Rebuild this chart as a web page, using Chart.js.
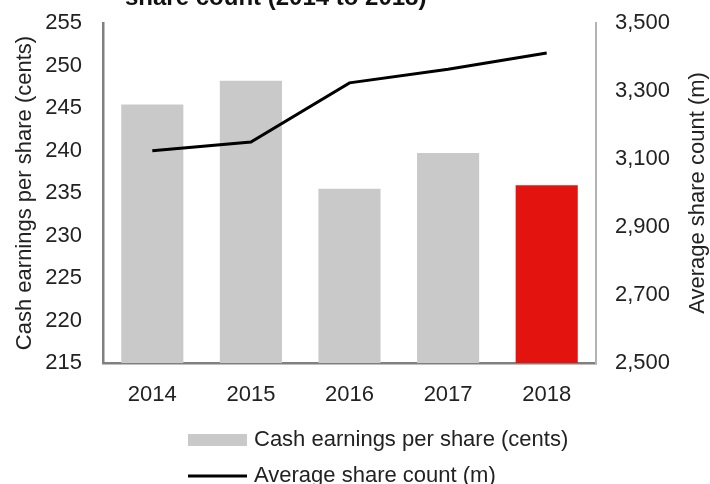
<!doctype html>
<html>
<head>
<title>Cash earnings per share and average share count</title>
<script src="https://cdn.jsdelivr.net/npm/chart.js@4.4.1/dist/chart.umd.min.js"></script>
<style>
body { margin: 0; background: #fff; }
canvas { display: block; }
</style>
</head>
<body>
	<canvas id="canvas" width="710" height="484"></canvas>

	<script>
		// data
		var years = ['2014', '2015', '2016', '2017', '2018'];
		var cashEps = [245.4, 248.2, 235.5, 239.7, 235.9];
		var shareCount = [3124, 3150, 3324, 3364, 3412];
		var epsTicks = [215, 255, 5];
		var countTicks = [2500, 3500, 200];

		var epsLabel = 'Cash earnings per share (cents)';
		var countLabel = 'Average share count (m)';
		var titleText = 'share count (2014 to 2018)';

		var grey = '#c9c9c9';
		var red = '#e3140f';
		var textColor = '#222';
		var fontFamily = '"Liberation Sans", Arial, sans-serif';

		Chart.defaults.font.family = fontFamily;
		Chart.defaults.font.size = 22;
		Chart.defaults.color = textColor;

		// title (cut off at the top), right axis title and legend
		var extras = {
			id: 'extras',
			afterDraw: function(chart) {
				var ctx = chart.ctx;
				ctx.save();
				ctx.fillStyle = '#111';
				ctx.font = 'bold 24px ' + fontFamily;
				ctx.textAlign = 'left';
				ctx.textBaseline = 'alphabetic';
				ctx.fillText(titleText, 125, 5);

				var area = chart.chartArea;
				ctx.fillStyle = textColor;
				ctx.font = '22px ' + fontFamily;
				ctx.translate(698, (area.top + area.bottom) / 2);
				ctx.rotate(-Math.PI / 2);
				ctx.textAlign = 'center';
				ctx.textBaseline = 'middle';
				ctx.fillText(countLabel, 0, 0);
				ctx.restore();

				ctx.save();
				ctx.font = '22px ' + fontFamily;
				ctx.textAlign = 'left';
				ctx.textBaseline = 'middle';
				ctx.fillStyle = grey;
				ctx.fillRect(188, 434, 59, 12);
				ctx.fillStyle = textColor;
				ctx.fillText(chart.data.datasets[1].label, 254, 440);
				ctx.strokeStyle = '#000';
				ctx.lineWidth = 3;
				ctx.beginPath();
				ctx.moveTo(188, 476);
				ctx.lineTo(247, 476);
				ctx.stroke();
				ctx.fillText(chart.data.datasets[0].label, 254, 476);
				ctx.restore();
			}
		};

		// tick padding is also added above the axis, keep only half a label
		function fitSide(width) {
			return function(s) {
				s.width = width;
				s.paddingTop = 11;
				s.paddingBottom = 11;
			};
		}

		var ctx = document.getElementById('canvas').getContext('2d');
		window.myChart = new Chart(ctx, {
			type: 'bar',
			data: {
				labels: years,
				datasets: [{
					type: 'line',
					label: countLabel,
					data: shareCount,
					yAxisID: 'y1',
					borderColor: '#000',
					borderWidth: 3,
					pointRadius: 0,
					tension: 0,
					order: 0
				}, {
					type: 'bar',
					label: epsLabel,
					data: cashEps,
					yAxisID: 'y',
					backgroundColor: years.map(function(y, i) { return i === years.length - 1 ? red : grey; }),
					barPercentage: 0.63,
					categoryPercentage: 1,
					order: 1
				}]
			},
			options: {
				responsive: false,
				animation: false,
				devicePixelRatio: 1,
				layout: { padding: { top: 23, bottom: 76, left: 0, right: 0 } },
				plugins: {
					legend: { display: false },
					title: { display: false },
					tooltip: { enabled: false }
				},
				scales: {
					x: {
						grid: { display: false, drawTicks: false },
						border: { color: '#808080', width: 2.5 },
						ticks: { padding: 19, color: textColor },
						afterFit: function(s) { s.height = 45; }
					},
					y: {
						position: 'left',
						min: epsTicks[0],
						max: epsTicks[1],
						grid: { display: false, drawTicks: false },
						border: { color: '#808080', width: 2.5 },
						ticks: { stepSize: epsTicks[2], padding: 21, color: textColor },
						title: { display: true, text: epsLabel, color: textColor, padding: { top: 12, bottom: 0 } },
						afterFit: fitSide(103)
					},
					y1: {
						position: 'right',
						min: countTicks[0],
						max: countTicks[1],
						grid: { display: false, drawTicks: false },
						border: { color: '#b3b3b3', width: 2 },
						ticks: {
							stepSize: countTicks[2],
							padding: 19,
							color: textColor,
							callback: function(v) { return v.toLocaleString('en-US'); }
						},
						afterFit: fitSide(114)
					}
				}
			},
			plugins: [extras]
		});
	</script>
</body>
</html>
